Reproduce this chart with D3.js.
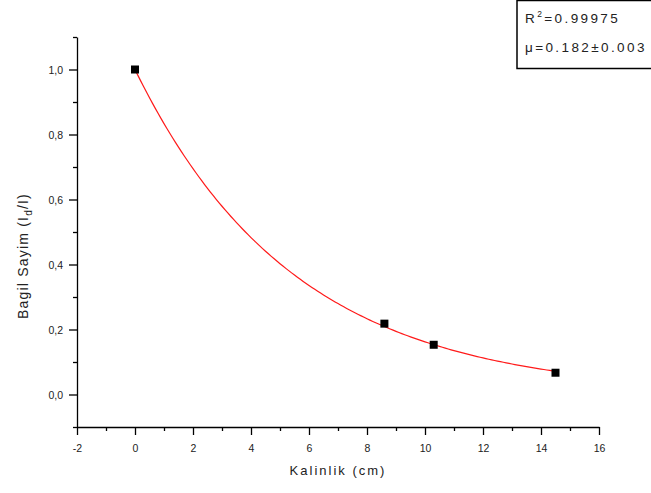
<!DOCTYPE html>
<html>
<head>
<meta charset="utf-8">
<script src="https://cdn.jsdelivr.net/npm/d3@7/dist/d3.min.js"></script>
<style>
  html, body { margin: 0; padding: 0; background: #fff; }
  svg { display: block; font-family: Arial, "Liberation Sans", sans-serif; }
</style>
</head>
<body>
<svg id="chart" width="651" height="493"></svg>
<script>
// Measured thickness (cm) and relative count I_d/I
const thickness = [0, 8.6, 10.3, 14.5];
const relCount  = [1.0, 0.218, 0.153, 0.067];

// Exponential attenuation fit parameters
const mu = 0.182;
const muErr = 0.003;
const rSquared = 0.99975;

const xTicks = [-2, 0, 2, 4, 6, 8, 10, 12, 14, 16];
const yTicks = [0.0, 0.2, 0.4, 0.6, 0.8, 1.0];

const svg = d3.select("#chart");

const x = d3.scaleLinear().domain([-2, 16]).range([77, 599]);
const y = d3.scaleLinear().domain([-0.1, 1.1]).range([427, 37]);

const fmt = d => d3.format(".1f")(d).replace(".", ",");

// X axis
const xAxis = svg.append("g").attr("transform", `translate(0,${y(-0.1)})`);
xAxis.call(d3.axisBottom(x).tickValues(d3.range(-2, 17, 1)).tickSize(0).tickFormat(""));
xAxis.select(".domain").attr("stroke", "#000").attr("stroke-width", 1.3);
xAxis.selectAll(".tick line").remove();
xAxis.selectAll(".tick").append("line")
  .attr("y1", 0)
  .attr("y2", d => (d % 2 === 0 ? 8 : 4))
  .attr("stroke", "#000").attr("stroke-width", 1.3);
xAxis.selectAll(".tick").filter(d => xTicks.includes(d)).append("text")
  .attr("y", 25)
  .attr("text-anchor", "middle")
  .attr("fill", "#222")
  .attr("font-size", 10.5)
  .text(d => d);

// Y axis
const yAxis = svg.append("g").attr("transform", `translate(${x(-2)},0)`);
yAxis.call(d3.axisLeft(y).tickValues(d3.range(-1, 12, 1).map(v => v / 10)).tickSize(0).tickFormat(""));
yAxis.select(".domain").attr("stroke", "#000").attr("stroke-width", 1.3);
yAxis.selectAll(".tick line").remove();
yAxis.selectAll(".tick").append("line")
  .attr("x1", 0)
  .attr("x2", d => (Math.round(d * 10) % 2 === 0 ? -8 : -4))
  .attr("stroke", "#000").attr("stroke-width", 1.3);
yAxis.selectAll(".tick").filter(d => yTicks.some(t => Math.abs(t - d) < 1e-9)).append("text")
  .attr("x", -14)
  .attr("dy", "0.35em")
  .attr("text-anchor", "end")
  .attr("fill", "#222")
  .attr("font-size", 10.5)
  .text(d => fmt(d));

// Axis titles
svg.append("text")
  .attr("x", 338).attr("y", 475)
  .attr("text-anchor", "middle")
  .attr("font-size", 13)
  .attr("letter-spacing", 2)
  .attr("fill", "#222")
  .text("Kalinlik (cm)");

const yTitle = svg.append("text")
  .attr("transform", `translate(28,${256}) rotate(-90)`)
  .attr("text-anchor", "middle")
  .attr("font-size", 14)
  .attr("letter-spacing", 1.2)
  .attr("fill", "#222");
yTitle.append("tspan").text("Bagil Sayim (I");
yTitle.append("tspan").attr("font-size", 10).attr("dy", 4).text("d");
yTitle.append("tspan").attr("dy", -4).text("/I)");

// Fitted curve I_d/I = exp(-mu x) over the measured range
const fitX = d3.range(0, 14.5 + 1e-9, 0.1);
const line = d3.line().x(d => x(d)).y(d => y(Math.exp(-mu * d)));
svg.append("path")
  .datum(fitX)
  .attr("d", line)
  .attr("fill", "none")
  .attr("stroke", "#ff1a1a")
  .attr("stroke-width", 1.2);

// Data markers
const pts = thickness.map((t, i) => ({ t, v: relCount[i] }));
svg.selectAll("rect.pt")
  .data(pts)
  .enter().append("rect")
  .attr("class", "pt")
  .attr("x", d => x(d.t) - 4)
  .attr("y", d => y(d.v) - 4)
  .attr("width", 8).attr("height", 8)
  .attr("fill", "#000");

// Fit statistics box
svg.append("rect")
  .attr("x", 517).attr("y", 0.5)
  .attr("width", 140).attr("height", 68)
  .attr("fill", "#fff")
  .attr("stroke", "#000").attr("stroke-width", 1.5);

const r2 = svg.append("text")
  .attr("x", 525).attr("y", 23)
  .attr("font-size", 13.5)
  .attr("letter-spacing", 2.4)
  .attr("fill", "#222");
r2.append("tspan").text("R");
r2.append("tspan").attr("font-size", 8.5).attr("dy", -6).text("2");
r2.append("tspan").attr("dy", 6).text("=" + rSquared.toFixed(5));

svg.append("text")
  .attr("x", 525).attr("y", 52)
  .attr("font-size", 13.5)
  .attr("letter-spacing", 2.4)
  .attr("fill", "#222")
  .text("\u03bc=" + mu.toFixed(3) + "\u00b1" + muErr.toFixed(3));
</script>
</body>
</html>
